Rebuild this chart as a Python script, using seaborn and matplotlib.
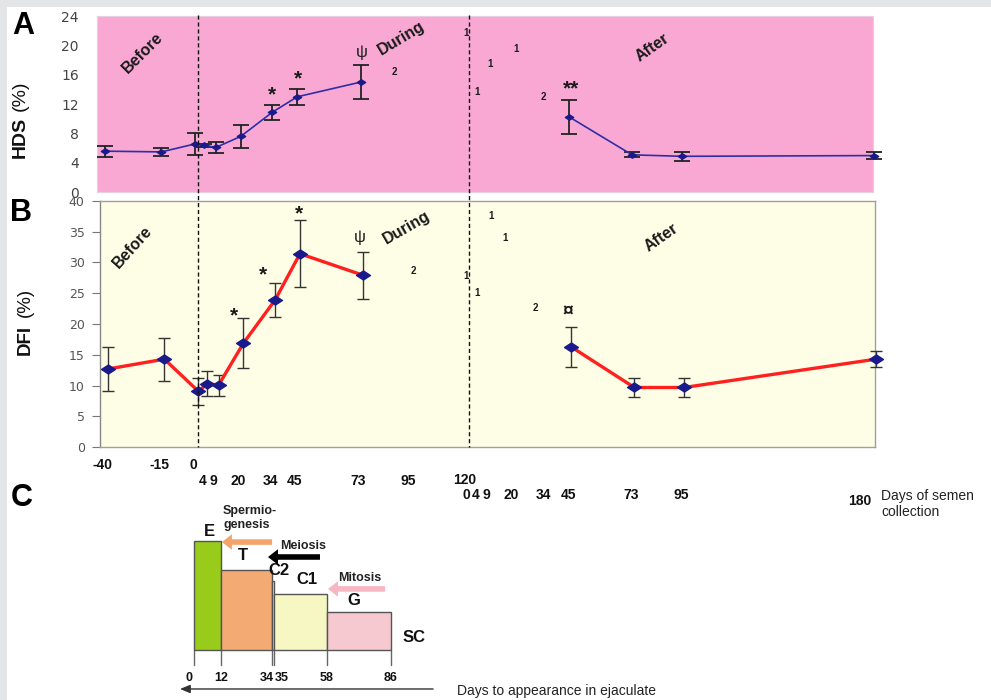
import matplotlib
matplotlib.use("Agg")
import matplotlib.pyplot as plt
import matplotlib.transforms as mtransforms
from matplotlib.lines import Line2D
from matplotlib.patches import Rectangle
from matplotlib.path import Path
import pandas as pd
import seaborn as sns

# ---- data -------------------------------------------------------------
treatment_length = 120          # days of treatment; "after" days count from its end
during_days = [-40, -15, 0, 4, 9, 20, 34, 45, 73]
after_days = [45, 73, 95, 180]

hds_during = [5.6, 5.5, 6.6, 6.4, 6.1, 7.6, 10.9, 13.0, 15.0]
hds_during_err = [0.75, 0.5, 1.5, 0.2, 0.8, 1.6, 1.05, 1.1, 2.3]
hds_after = [10.3, 5.1, 4.9, 5.0]
hds_after_err = [2.3, 0.35, 0.6, 0.45]

dfi_during = [12.7, 14.3, 9.1, 10.3, 10.1, 16.9, 23.9, 31.4, 27.9]
dfi_during_err = [3.5, 3.5, 2.2, 2.0, 1.7, 4.0, 2.8, 5.4, 3.85]
dfi_after = [16.3, 9.7, 9.7, 14.3]
dfi_after_err = [3.2, 1.5, 1.5, 1.3]

before_tick_days = [-40, -15, 0]
during_tick_days = [4, 9, 20, 34, 45, 73, 95]
after_tick_days = [0, 4, 9, 20, 34, 45, 73, 95]
last_tick_day = 180

# germ-cell stages, days to appearance in ejaculate
stage_starts = [0, 12, 34, 35, 58]
stage_ends = [12, 34, 35, 58, 86]
stage_heights = [100, 73, 63, 51, 35]
stage_colors = ["#99cc1a", "#f4aa73", "#fbfbc4", "#f6f7c2", "#f5c9cf"]
stage_ticks = [0, 12, 34, 35, 58, 86]

# ---- style ------------------------------------------------------------
sns.set_style("white")
plt.rcParams["font.family"] = ["Liberation Sans", "DejaVu Sans"]
NARROW = ["Liberation Sans Narrow", "Liberation Sans", "DejaVu Sans"]

W, H = 991, 700
fig = plt.figure(figsize=(W / 100, H / 100), dpi=100)
fig.patch.set_facecolor("white")


def box(l, t, r, b):
    return [l / W, 1 - b / H, (r - l) / W, (b - t) / H]


def fx(px):
    return px / W


def fy(py):
    return 1 - py / H


# page frame strips
fig.add_artist(Rectangle((0, fy(7)), 1, 7 / H, transform=fig.transFigure,
                         color="#e4e5e7", lw=0, zorder=0))
fig.add_artist(Rectangle((0, 0), 7 / W, 1, transform=fig.transFigure,
                         color="#e4e5e7", lw=0, zorder=0))

axA = fig.add_axes(box(97, 16, 873, 192.3))
axB = fig.add_axes(box(100, 200.7, 875, 447.3))
axC = fig.add_axes(box(180, 505, 440, 700))

XLIM = (-43.5, 299.5)
after_x = [treatment_length + d for d in after_days]

diamond = Path([(-1, 0), (0, 0.65), (1, 0), (0, -0.65), (-1, 0)],
               [Path.MOVETO, Path.LINETO, Path.LINETO, Path.LINETO, Path.CLOSEPOLY])


def draw_series(ax, xs, ys, errs, line_color, lw, msize, cap, elw, ecolor):
    ax.errorbar(xs, ys, yerr=errs, fmt="none", ecolor=ecolor, elinewidth=elw,
                capsize=cap, capthick=elw, zorder=3, clip_on=False)
    df = pd.DataFrame({"day": xs, "value": ys})
    sns.lineplot(data=df, x="day", y="value", ax=ax, color=line_color, lw=lw,
                 sort=False, errorbar=None, zorder=4, clip_on=False)
    ax.plot(xs, ys, ls="none", marker=diamond, markersize=msize,
            markerfacecolor="#1a1a8c", markeredgecolor="#1a1a8c", zorder=5, clip_on=False)


# ---- panel A: HDS -----------------------------------------------------
axA.set_facecolor("#f9a8d4")
draw_series(axA, during_days, hds_during, hds_during_err, "#2e2ea8", 1.2, 6, 5.5, 1.3, "#222222")
draw_series(axA, after_x, hds_after, hds_after_err, "#2e2ea8", 1.2, 6, 5.5, 1.3, "#222222")
axA.set_xlim(XLIM)
axA.set_ylim(0, 24)
axA.set_yticks(range(0, 25, 4))
axA.set_xticks([])
axA.tick_params(axis="y", length=0, pad=13, labelsize=10, labelcolor="#444444")
for lab in axA.get_yticklabels():
    lab.set_family("DejaVu Sans")
for s in axA.spines.values():
    s.set_color("#e6cfe0")
    s.set_linewidth(0.8)
axA.set_xlabel("")
axA.set_ylabel("")

# ---- panel B: DFI -----------------------------------------------------
axB.set_facecolor("#fefee6")
draw_series(axB, during_days, dfi_during, dfi_during_err, "#ff2020", 2.4, 10, 4, 1.0, "#333333")
draw_series(axB, after_x, dfi_after, dfi_after_err, "#ff2020", 2.4, 10, 4, 1.0, "#333333")
axB.set_xlim(XLIM)
axB.set_ylim(0, 40)
axB.set_yticks(range(0, 41, 5))
axB.set_xticks([0, treatment_length])
axB.set_xticklabels([])
axB.tick_params(axis="x", direction="in", length=4, color="#666666")
axB.tick_params(axis="y", length=6, width=0.8, color="#777777", pad=5,
                labelsize=9, labelcolor="#555555", left=True)
for lab in axB.get_yticklabels():
    lab.set_family("DejaVu Sans")
for s in axB.spines.values():
    s.set_color("#a0a0a0")
    s.set_linewidth(1.0)
axB.spines["left"].set_color("#888888")
axB.set_xlabel("")
axB.set_ylabel("")

# dashed lines marking start and end of treatment across both panels
vline_tr = mtransforms.blended_transform_factory(axB.transData, fig.transFigure)
for d in (0, treatment_length):
    fig.add_artist(Line2D([d, d], [fy(15), fy(447)], transform=vline_tr,
                          color="#111111", lw=1.0, ls=(0, (3, 2)), zorder=6))

# period labels and significance marks
bold = dict(fontweight="bold", color="#1a1a1a")
axA.text(-23.2, 19.0, "Before", rotation=45, ha="center", va="center", fontsize=11.5, **bold)
axA.text(90.9, 21.0, "During", rotation=31, ha="center", va="center", fontsize=11.5, **bold)
axA.text(202, 19.7, "After", rotation=35, ha="center", va="center", fontsize=11.5, **bold)
axA.text(73.7, 19.0, "ψ", ha="center", va="center", fontsize=12, color="#222222")
axA.text(33.9, 13.2, "*", ha="center", va="center", fontsize=15, **bold)
axA.text(45.4, 15.5, "*", ha="center", va="center", fontsize=15, **bold)
axA.text(166, 14.1, "**", ha="center", va="center", fontsize=15, **bold)
for x, y, t in [(87.8, 16.4, "2"), (119.6, 21.7, "1"), (130.2, 17.4, "1"),
                (141.7, 19.5, "1"), (124.5, 13.7, "1"), (153.7, 13.0, "2")]:
    axA.text(x, y, t, ha="center", va="center", fontsize=7, **bold)

axB.text(-28.9, 32.5, "Before", rotation=48, ha="center", va="center", fontsize=11.5, **bold)
axB.text(92.4, 35.6, "During", rotation=30, ha="center", va="center", fontsize=11.5, **bold)
axB.text(205, 34.0, "After", rotation=35, ha="center", va="center", fontsize=11.5, **bold)
axB.text(71.6, 34.0, "ψ", ha="center", va="center", fontsize=12, color="#222222")
axB.text(15.8, 21.3, "*", ha="center", va="center", fontsize=15, **bold)
axB.text(28.6, 28.0, "*", ha="center", va="center", fontsize=15, **bold)
axB.text(44.6, 37.9, "*", ha="center", va="center", fontsize=15, **bold)
axB.text(163.6, 21.9, "¤", ha="center", va="center", fontsize=14, **bold)
for x, y, t in [(95, 28.6, "2"), (118.5, 27.8, "1"), (123.4, 25.0, "1"),
                (129.5, 37.5, "1"), (135.7, 34.0, "1"), (149, 22.6, "2")]:
    axB.text(x, y, t, ha="center", va="center", fontsize=7, **bold)

# day labels beneath panel B
tick_tr = mtransforms.offset_copy(vline_tr, fig=fig, x=-5, y=0, units="dots")
tick_tr2 = mtransforms.offset_copy(vline_tr, fig=fig, x=-3, y=0, units="dots")
lab_kw = dict(ha="center", va="center", fontsize=10, fontweight="bold",
              family=NARROW, color="#111111")
for d in before_tick_days:
    fig.text(d, fy(465), str(d), transform=tick_tr, **lab_kw)
for d in during_tick_days:
    fig.text(d, fy(481), str(d), transform=tick_tr, **lab_kw)
fig.text(treatment_length, fy(480), str(treatment_length), transform=tick_tr, **lab_kw)
for d in after_tick_days:
    fig.text(treatment_length + d, fy(495), str(d), transform=tick_tr2, **lab_kw)
fig.text(treatment_length + last_tick_day, fy(501), str(last_tick_day),
         transform=mtransforms.offset_copy(vline_tr, fig=fig, x=-5, y=0, units="dots"),
         ha="right", va="center", fontsize=10, fontweight="bold", family=NARROW, color="#111111")
fig.text(fx(881), fy(504), "Days of semen\ncollection", ha="left", va="center",
         fontsize=10, family=NARROW, color="#222222", linespacing=1.15)

# axis titles and panel letters
fig.text(fx(20), fy(137), "HDS", rotation=90, ha="center", va="center", fontsize=14,
         fontweight="bold", color="#111111")
fig.text(fx(20), fy(96), "(%)", rotation=90, ha="center", va="center", fontsize=14,
         color="#111111")
fig.text(fx(25), fy(340), "DFI", rotation=90, ha="center", va="center", fontsize=13.5,
         fontweight="bold", color="#111111")
fig.text(fx(25), fy(302), "(%)", rotation=90, ha="center", va="center", fontsize=13.5,
         color="#111111")
for letter, (px, py) in {"A": (23, 26), "B": (21, 213), "C": (22, 498)}.items():
    fig.text(fx(px), fy(py), letter, ha="center", va="center", fontsize=22,
             fontweight="bold", color="#000000")

# ---- panel C: spermatogenesis timeline --------------------------------
axC.set_xlim(-6.11, 107.4)
axC.set_ylim(-45.9, 133.0)
axC.axis("off")
widths = [e - s for s, e in zip(stage_starts, stage_ends)]
axC.bar(stage_starts, stage_heights, width=widths, align="edge", color=stage_colors,
        edgecolor="#555555", linewidth=1.0, zorder=2)
for d in stage_ticks:
    axC.plot([d, d], [0, -13.8], color="#666666", lw=1.0, zorder=1)
tick_offsets = {0: -2.2, 34: -2.2, 35: 3.5}
for d in stage_ticks:
    axC.text(d + tick_offsets.get(d, 0), -25.7, str(d), ha="center", va="center",
             fontsize=9, fontweight="bold", color="#111111")

stage_kw = dict(ha="center", va="center", fontsize=12, fontweight="bold", color="#111111")
for t, x, y in [("E", 6.6, 109), ("T", 21.4, 87), ("C2", 37.1, 72.5),
                ("C1", 49.3, 65), ("G", 69.9, 45), ("SC", 96, 11)]:
    axC.text(x, y, t, **stage_kw)

small_kw = dict(fontsize=9, fontweight="bold", color="#222222", va="center")
axC.text(12.7, 127.5, "Spermio-", ha="left", **small_kw)
axC.text(12.7, 114.7, "genesis", ha="left", **small_kw)
axC.text(47.6, 95.4, "Meiosis", ha="center", **small_kw)
axC.text(72.5, 66, "Mitosis", ha="center", **small_kw)

arrow_style = "simple,head_length=0.9,head_width=1.4,tail_width=0.5"
for (x0, x1, y, c) in [(34.1, 12.2, 99, "#f4a46a"), (55.0, 32.3, 85.3, "#000000"),
                       (83.4, 58.5, 56, "#f6b7c2")]:
    axC.annotate("", xy=(x1, y), xytext=(x0, y),
                 arrowprops=dict(arrowstyle=arrow_style, color=c, lw=0,
                                 mutation_scale=8, shrinkA=0, shrinkB=0))
axC.annotate("", xy=(-6.1, -35.8), xytext=(104.4, -35.8),
             arrowprops=dict(arrowstyle="-|>,head_length=0.6,head_width=0.25",
                             color="#333333", lw=1.0, shrinkA=0, shrinkB=0),
             annotation_clip=False)
fig.text(fx(457), fy(691), "Days to appearance in ejaculate", ha="left", va="center",
         fontsize=10, color="#222222")

fig.savefig("out.png", dpi=100)
